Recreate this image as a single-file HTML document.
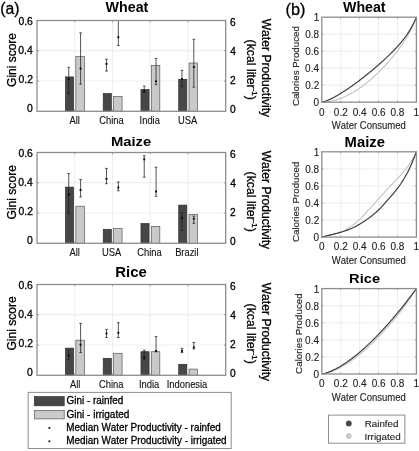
<!DOCTYPE html>
<html><head><meta charset="utf-8"><style>
html,body{margin:0;padding:0;background:#fff;width:419px;height:451px;overflow:hidden;position:relative}
</style></head><body>
<svg width="419" height="451" viewBox="0 0 419 451" style="position:absolute;left:0;top:0;will-change:transform">
<g font-family="'Liberation Sans', sans-serif" style="font-kerning:none">
<text transform="translate(0.32,13.86) scale(0.9469,1)" font-size="16.64" fill="#000" stroke="#000" stroke-width="0.300">(a)</text>
<text transform="translate(285.59,15.16) scale(0.9797,1)" font-size="16.64" fill="#000" stroke="#000" stroke-width="0.300">(b)</text>
<line x1="37.0" y1="81.03" x2="225.7" y2="81.03" stroke="#ebebeb" stroke-width="0.9"/>
<line x1="37.0" y1="50.77" x2="225.7" y2="50.77" stroke="#ebebeb" stroke-width="0.9"/>
<line x1="74.74" y1="20.5" x2="74.74" y2="111.3" stroke="#ebebeb" stroke-width="0.9"/>
<line x1="112.48" y1="20.5" x2="112.48" y2="111.3" stroke="#ebebeb" stroke-width="0.9"/>
<line x1="150.22" y1="20.5" x2="150.22" y2="111.3" stroke="#ebebeb" stroke-width="0.9"/>
<line x1="187.96" y1="20.5" x2="187.96" y2="111.3" stroke="#ebebeb" stroke-width="0.9"/>
<rect x="65.49" y="76.90" width="8.1" height="34.40" fill="#474747" stroke="#2e2e2e" stroke-width="0.7"/>
<rect x="75.84" y="56.60" width="8.5" height="54.70" fill="#c9c9c9" stroke="#5a5a5a" stroke-width="0.7"/>
<rect x="103.23" y="93.60" width="8.1" height="17.70" fill="#474747" stroke="#2e2e2e" stroke-width="0.7"/>
<rect x="113.58" y="96.40" width="8.5" height="14.90" fill="#c9c9c9" stroke="#5a5a5a" stroke-width="0.7"/>
<rect x="140.97" y="89.50" width="8.1" height="21.80" fill="#474747" stroke="#2e2e2e" stroke-width="0.7"/>
<rect x="151.32" y="65.40" width="8.5" height="45.90" fill="#c9c9c9" stroke="#5a5a5a" stroke-width="0.7"/>
<rect x="178.71" y="79.30" width="8.1" height="32.00" fill="#474747" stroke="#2e2e2e" stroke-width="0.7"/>
<rect x="189.06" y="63.00" width="8.5" height="48.30" fill="#c9c9c9" stroke="#5a5a5a" stroke-width="0.7"/>
<g stroke="#1e1e1e" stroke-width="0.75">
<line x1="68.74" y1="67.3" x2="68.74" y2="93.8"/>
<line x1="67.44" y1="67.3" x2="70.04" y2="67.3"/>
<line x1="67.44" y1="93.8" x2="70.04" y2="93.8"/>
<line x1="80.59" y1="32.9" x2="80.59" y2="84.2"/>
<line x1="79.29" y1="32.9" x2="81.89" y2="32.9"/>
<line x1="79.29" y1="84.2" x2="81.89" y2="84.2"/>
<line x1="106.48" y1="59.2" x2="106.48" y2="71.1"/>
<line x1="105.18" y1="59.2" x2="107.78" y2="59.2"/>
<line x1="105.18" y1="71.1" x2="107.78" y2="71.1"/>
<line x1="118.33" y1="20.5" x2="118.33" y2="45.5"/>
<line x1="117.03" y1="45.5" x2="119.63" y2="45.5"/>
<line x1="144.22" y1="86.1" x2="144.22" y2="92.6"/>
<line x1="142.92" y1="86.1" x2="145.52" y2="86.1"/>
<line x1="142.92" y1="92.6" x2="145.52" y2="92.6"/>
<line x1="156.07" y1="58.4" x2="156.07" y2="84.7"/>
<line x1="154.77" y1="58.4" x2="157.37" y2="58.4"/>
<line x1="154.77" y1="84.7" x2="157.37" y2="84.7"/>
<line x1="181.96" y1="70.4" x2="181.96" y2="86.6"/>
<line x1="180.66" y1="70.4" x2="183.26" y2="70.4"/>
<line x1="180.66" y1="86.6" x2="183.26" y2="86.6"/>
<line x1="193.81" y1="39.3" x2="193.81" y2="87.1"/>
<line x1="192.51" y1="39.3" x2="195.11" y2="39.3"/>
<line x1="192.51" y1="87.1" x2="195.11" y2="87.1"/>
</g>
<rect x="67.79" y="78.05" width="1.9" height="1.9" fill="#0a0a0a"/>
<rect x="79.64" y="67.55" width="1.9" height="1.9" fill="#0a0a0a"/>
<rect x="105.53" y="62.95" width="1.9" height="1.9" fill="#0a0a0a"/>
<rect x="117.38" y="36.25" width="1.9" height="1.9" fill="#0a0a0a"/>
<rect x="143.27" y="89.95" width="1.9" height="1.9" fill="#0a0a0a"/>
<rect x="155.12" y="80.35" width="1.9" height="1.9" fill="#0a0a0a"/>
<rect x="181.01" y="78.05" width="1.9" height="1.9" fill="#0a0a0a"/>
<rect x="192.86" y="66.05" width="1.9" height="1.9" fill="#0a0a0a"/>
<rect x="37.0" y="20.5" width="188.70" height="90.80" fill="none" stroke="#8e8e8e" stroke-width="1.3"/>
<line x1="74.74" y1="20.5" x2="74.74" y2="22.3" stroke="#8e8e8e" stroke-width="0.8"/>
<line x1="74.74" y1="111.3" x2="74.74" y2="109.5" stroke="#8e8e8e" stroke-width="0.8"/>
<line x1="112.48" y1="20.5" x2="112.48" y2="22.3" stroke="#8e8e8e" stroke-width="0.8"/>
<line x1="112.48" y1="111.3" x2="112.48" y2="109.5" stroke="#8e8e8e" stroke-width="0.8"/>
<line x1="150.22" y1="20.5" x2="150.22" y2="22.3" stroke="#8e8e8e" stroke-width="0.8"/>
<line x1="150.22" y1="111.3" x2="150.22" y2="109.5" stroke="#8e8e8e" stroke-width="0.8"/>
<line x1="187.96" y1="20.5" x2="187.96" y2="22.3" stroke="#8e8e8e" stroke-width="0.8"/>
<line x1="187.96" y1="111.3" x2="187.96" y2="109.5" stroke="#8e8e8e" stroke-width="0.8"/>
<line x1="37.0" y1="81.03" x2="38.8" y2="81.03" stroke="#8e8e8e" stroke-width="0.8"/>
<line x1="225.7" y1="81.03" x2="223.89999999999998" y2="81.03" stroke="#8e8e8e" stroke-width="0.8"/>
<line x1="37.0" y1="50.77" x2="38.8" y2="50.77" stroke="#8e8e8e" stroke-width="0.8"/>
<line x1="225.7" y1="50.77" x2="223.89999999999998" y2="50.77" stroke="#8e8e8e" stroke-width="0.8"/>
<text transform="translate(18.40,25.10) scale(1.0100,1)" font-size="10.30" fill="#000" stroke="#000" stroke-width="0.300">0.6</text>
<text transform="translate(229.88,25.90) scale(0.9900,1)" font-size="10.30" fill="#000" stroke="#000" stroke-width="0.300">6</text>
<text transform="translate(18.24,54.03) scale(1.0100,1)" font-size="10.30" fill="#000" stroke="#000" stroke-width="0.300">0.4</text>
<text transform="translate(230.17,54.83) scale(0.9900,1)" font-size="10.30" fill="#000" stroke="#000" stroke-width="0.300">4</text>
<text transform="translate(18.46,82.96) scale(1.0100,1)" font-size="10.30" fill="#000" stroke="#000" stroke-width="0.300">0.2</text>
<text transform="translate(229.89,83.76) scale(0.9900,1)" font-size="10.30" fill="#000" stroke="#000" stroke-width="0.300">2</text>
<text transform="translate(27.02,111.89) scale(1.0100,1)" font-size="10.30" fill="#000" stroke="#000" stroke-width="0.300">0</text>
<text transform="translate(230.00,112.69) scale(0.9900,1)" font-size="10.30" fill="#000" stroke="#000" stroke-width="0.300">0</text>
<text transform="translate(69.50,123.80) scale(0.9000,1)" font-size="10.40" fill="#111" stroke="#111" stroke-width="0.120">All</text>
<text transform="translate(99.33,123.80) scale(0.9000,1)" font-size="10.40" fill="#111" stroke="#111" stroke-width="0.120">China</text>
<text transform="translate(139.62,123.80) scale(0.9000,1)" font-size="10.40" fill="#111" stroke="#111" stroke-width="0.120">India</text>
<text transform="translate(178.03,123.80) scale(0.9000,1)" font-size="10.40" fill="#111" stroke="#111" stroke-width="0.120">USA</text>
<text transform="translate(105.59,11.66) scale(1.0169,1)" font-size="14.03" font-weight="bold" fill="#000">Wheat</text>
<text transform="translate(15.50,86.90) rotate(-90) scale(0.9663,1)" font-size="12.40" fill="#000" stroke="#000" stroke-width="0.300">Gini score</text>
<text transform="translate(261.90,18.65) rotate(90) scale(0.9798,1)" font-size="12.40" fill="#000" stroke="#000" stroke-width="0.300">Water Productivity</text>
<text transform="translate(247.3,39.60) rotate(90) scale(0.99,1)" font-size="12.4" fill="#000" stroke="#000" stroke-width="0.3">(kcal liter<tspan font-size="8" dy="-4.6">-1</tspan><tspan dy="4.6">)</tspan></text>
<line x1="37.0" y1="213.03" x2="225.7" y2="213.03" stroke="#ebebeb" stroke-width="0.9"/>
<line x1="37.0" y1="182.77" x2="225.7" y2="182.77" stroke="#ebebeb" stroke-width="0.9"/>
<line x1="74.74" y1="152.5" x2="74.74" y2="243.3" stroke="#ebebeb" stroke-width="0.9"/>
<line x1="112.48" y1="152.5" x2="112.48" y2="243.3" stroke="#ebebeb" stroke-width="0.9"/>
<line x1="150.22" y1="152.5" x2="150.22" y2="243.3" stroke="#ebebeb" stroke-width="0.9"/>
<line x1="187.96" y1="152.5" x2="187.96" y2="243.3" stroke="#ebebeb" stroke-width="0.9"/>
<rect x="65.49" y="187.10" width="8.1" height="56.20" fill="#474747" stroke="#2e2e2e" stroke-width="0.7"/>
<rect x="75.84" y="206.20" width="8.5" height="37.10" fill="#c9c9c9" stroke="#5a5a5a" stroke-width="0.7"/>
<rect x="103.23" y="229.30" width="8.1" height="14.00" fill="#474747" stroke="#2e2e2e" stroke-width="0.7"/>
<rect x="113.58" y="228.30" width="8.5" height="15.00" fill="#c9c9c9" stroke="#5a5a5a" stroke-width="0.7"/>
<rect x="140.97" y="223.60" width="8.1" height="19.70" fill="#474747" stroke="#2e2e2e" stroke-width="0.7"/>
<rect x="151.32" y="226.40" width="8.5" height="16.90" fill="#c9c9c9" stroke="#5a5a5a" stroke-width="0.7"/>
<rect x="178.71" y="205.10" width="8.1" height="38.20" fill="#474747" stroke="#2e2e2e" stroke-width="0.7"/>
<rect x="189.06" y="214.40" width="8.5" height="28.90" fill="#c9c9c9" stroke="#5a5a5a" stroke-width="0.7"/>
<g stroke="#1e1e1e" stroke-width="0.75">
<line x1="68.74" y1="173.6" x2="68.74" y2="213.7"/>
<line x1="67.44" y1="173.6" x2="70.04" y2="173.6"/>
<line x1="67.44" y1="213.7" x2="70.04" y2="213.7"/>
<line x1="80.59" y1="179.6" x2="80.59" y2="197"/>
<line x1="79.29" y1="179.6" x2="81.89" y2="179.6"/>
<line x1="79.29" y1="197" x2="81.89" y2="197"/>
<line x1="106.48" y1="168.4" x2="106.48" y2="183.7"/>
<line x1="105.18" y1="168.4" x2="107.78" y2="168.4"/>
<line x1="105.18" y1="183.7" x2="107.78" y2="183.7"/>
<line x1="118.33" y1="182" x2="118.33" y2="190.8"/>
<line x1="117.03" y1="182" x2="119.63" y2="182"/>
<line x1="117.03" y1="190.8" x2="119.63" y2="190.8"/>
<line x1="144.22" y1="155.7" x2="144.22" y2="177.2"/>
<line x1="142.92" y1="155.7" x2="145.52" y2="155.7"/>
<line x1="142.92" y1="177.2" x2="145.52" y2="177.2"/>
<line x1="156.07" y1="167.2" x2="156.07" y2="196.3"/>
<line x1="154.77" y1="167.2" x2="157.37" y2="167.2"/>
<line x1="154.77" y1="196.3" x2="157.37" y2="196.3"/>
<line x1="181.96" y1="212.4" x2="181.96" y2="230.5"/>
<line x1="180.66" y1="212.4" x2="183.26" y2="212.4"/>
<line x1="180.66" y1="230.5" x2="183.26" y2="230.5"/>
<line x1="193.81" y1="216.1" x2="193.81" y2="223.3"/>
<line x1="192.51" y1="216.1" x2="195.11" y2="216.1"/>
<line x1="192.51" y1="223.3" x2="195.11" y2="223.3"/>
</g>
<rect x="67.79" y="193.45" width="1.9" height="1.9" fill="#0a0a0a"/>
<rect x="79.64" y="188.95" width="1.9" height="1.9" fill="#0a0a0a"/>
<rect x="105.53" y="177.95" width="1.9" height="1.9" fill="#0a0a0a"/>
<rect x="117.38" y="186.55" width="1.9" height="1.9" fill="#0a0a0a"/>
<rect x="143.27" y="158.35" width="1.9" height="1.9" fill="#0a0a0a"/>
<rect x="155.12" y="190.55" width="1.9" height="1.9" fill="#0a0a0a"/>
<rect x="181.01" y="216.75" width="1.9" height="1.9" fill="#0a0a0a"/>
<rect x="192.86" y="217.85" width="1.9" height="1.9" fill="#0a0a0a"/>
<rect x="37.0" y="152.5" width="188.70" height="90.80" fill="none" stroke="#8e8e8e" stroke-width="1.3"/>
<line x1="74.74" y1="152.5" x2="74.74" y2="154.3" stroke="#8e8e8e" stroke-width="0.8"/>
<line x1="74.74" y1="243.3" x2="74.74" y2="241.5" stroke="#8e8e8e" stroke-width="0.8"/>
<line x1="112.48" y1="152.5" x2="112.48" y2="154.3" stroke="#8e8e8e" stroke-width="0.8"/>
<line x1="112.48" y1="243.3" x2="112.48" y2="241.5" stroke="#8e8e8e" stroke-width="0.8"/>
<line x1="150.22" y1="152.5" x2="150.22" y2="154.3" stroke="#8e8e8e" stroke-width="0.8"/>
<line x1="150.22" y1="243.3" x2="150.22" y2="241.5" stroke="#8e8e8e" stroke-width="0.8"/>
<line x1="187.96" y1="152.5" x2="187.96" y2="154.3" stroke="#8e8e8e" stroke-width="0.8"/>
<line x1="187.96" y1="243.3" x2="187.96" y2="241.5" stroke="#8e8e8e" stroke-width="0.8"/>
<line x1="37.0" y1="213.03" x2="38.8" y2="213.03" stroke="#8e8e8e" stroke-width="0.8"/>
<line x1="225.7" y1="213.03" x2="223.89999999999998" y2="213.03" stroke="#8e8e8e" stroke-width="0.8"/>
<line x1="37.0" y1="182.77" x2="38.8" y2="182.77" stroke="#8e8e8e" stroke-width="0.8"/>
<line x1="225.7" y1="182.77" x2="223.89999999999998" y2="182.77" stroke="#8e8e8e" stroke-width="0.8"/>
<text transform="translate(18.40,157.10) scale(1.0100,1)" font-size="10.30" fill="#000" stroke="#000" stroke-width="0.300">0.6</text>
<text transform="translate(229.88,157.90) scale(0.9900,1)" font-size="10.30" fill="#000" stroke="#000" stroke-width="0.300">6</text>
<text transform="translate(18.24,186.03) scale(1.0100,1)" font-size="10.30" fill="#000" stroke="#000" stroke-width="0.300">0.4</text>
<text transform="translate(230.17,186.83) scale(0.9900,1)" font-size="10.30" fill="#000" stroke="#000" stroke-width="0.300">4</text>
<text transform="translate(18.46,214.96) scale(1.0100,1)" font-size="10.30" fill="#000" stroke="#000" stroke-width="0.300">0.2</text>
<text transform="translate(229.89,215.76) scale(0.9900,1)" font-size="10.30" fill="#000" stroke="#000" stroke-width="0.300">2</text>
<text transform="translate(27.02,243.89) scale(1.0100,1)" font-size="10.30" fill="#000" stroke="#000" stroke-width="0.300">0</text>
<text transform="translate(230.00,244.69) scale(0.9900,1)" font-size="10.30" fill="#000" stroke="#000" stroke-width="0.300">0</text>
<text transform="translate(69.50,255.80) scale(0.9000,1)" font-size="10.40" fill="#111" stroke="#111" stroke-width="0.120">All</text>
<text transform="translate(102.03,255.80) scale(0.9000,1)" font-size="10.40" fill="#111" stroke="#111" stroke-width="0.120">USA</text>
<text transform="translate(137.23,255.80) scale(0.9000,1)" font-size="10.40" fill="#111" stroke="#111" stroke-width="0.120">China</text>
<text transform="translate(175.13,255.80) scale(0.9000,1)" font-size="10.40" fill="#111" stroke="#111" stroke-width="0.120">Brazil</text>
<text transform="translate(110.91,145.87) scale(1.1439,1)" font-size="12.94" font-weight="bold" fill="#000">Maize</text>
<text transform="translate(15.50,219.51) rotate(-90) scale(0.9754,1)" font-size="12.40" fill="#000" stroke="#000" stroke-width="0.300">Gini score</text>
<text transform="translate(261.90,150.65) rotate(90) scale(0.9798,1)" font-size="12.40" fill="#000" stroke="#000" stroke-width="0.300">Water Productivity</text>
<text transform="translate(247.3,171.60) rotate(90) scale(0.99,1)" font-size="12.4" fill="#000" stroke="#000" stroke-width="0.3">(kcal liter<tspan font-size="8" dy="-4.6">-1</tspan><tspan dy="4.6">)</tspan></text>
<line x1="37.0" y1="345.03" x2="225.7" y2="345.03" stroke="#ebebeb" stroke-width="0.9"/>
<line x1="37.0" y1="314.77" x2="225.7" y2="314.77" stroke="#ebebeb" stroke-width="0.9"/>
<line x1="74.74" y1="284.5" x2="74.74" y2="375.3" stroke="#ebebeb" stroke-width="0.9"/>
<line x1="112.48" y1="284.5" x2="112.48" y2="375.3" stroke="#ebebeb" stroke-width="0.9"/>
<line x1="150.22" y1="284.5" x2="150.22" y2="375.3" stroke="#ebebeb" stroke-width="0.9"/>
<line x1="187.96" y1="284.5" x2="187.96" y2="375.3" stroke="#ebebeb" stroke-width="0.9"/>
<rect x="65.49" y="348.10" width="8.1" height="27.20" fill="#474747" stroke="#2e2e2e" stroke-width="0.7"/>
<rect x="75.84" y="340.20" width="8.5" height="35.10" fill="#c9c9c9" stroke="#5a5a5a" stroke-width="0.7"/>
<rect x="103.23" y="358.30" width="8.1" height="17.00" fill="#474747" stroke="#2e2e2e" stroke-width="0.7"/>
<rect x="113.58" y="353.30" width="8.5" height="22.00" fill="#c9c9c9" stroke="#5a5a5a" stroke-width="0.7"/>
<rect x="140.97" y="351.70" width="8.1" height="23.60" fill="#474747" stroke="#2e2e2e" stroke-width="0.7"/>
<rect x="151.32" y="351.70" width="8.5" height="23.60" fill="#c9c9c9" stroke="#5a5a5a" stroke-width="0.7"/>
<rect x="178.71" y="364.30" width="8.1" height="11.00" fill="#474747" stroke="#2e2e2e" stroke-width="0.7"/>
<rect x="189.06" y="369.10" width="8.5" height="6.20" fill="#c9c9c9" stroke="#5a5a5a" stroke-width="0.7"/>
<g stroke="#1e1e1e" stroke-width="0.75">
<line x1="68.74" y1="350.2" x2="68.74" y2="359.7"/>
<line x1="67.44" y1="350.2" x2="70.04" y2="350.2"/>
<line x1="67.44" y1="359.7" x2="70.04" y2="359.7"/>
<line x1="80.59" y1="323.4" x2="80.59" y2="352.6"/>
<line x1="79.29" y1="323.4" x2="81.89" y2="323.4"/>
<line x1="79.29" y1="352.6" x2="81.89" y2="352.6"/>
<line x1="106.48" y1="329.4" x2="106.48" y2="337.5"/>
<line x1="105.18" y1="329.4" x2="107.78" y2="329.4"/>
<line x1="105.18" y1="337.5" x2="107.78" y2="337.5"/>
<line x1="118.33" y1="322.7" x2="118.33" y2="337.5"/>
<line x1="117.03" y1="322.7" x2="119.63" y2="322.7"/>
<line x1="117.03" y1="337.5" x2="119.63" y2="337.5"/>
<line x1="144.22" y1="350.2" x2="144.22" y2="359.7"/>
<line x1="142.92" y1="350.2" x2="145.52" y2="350.2"/>
<line x1="142.92" y1="359.7" x2="145.52" y2="359.7"/>
<line x1="156.07" y1="336.6" x2="156.07" y2="351.8"/>
<line x1="154.77" y1="336.6" x2="157.37" y2="336.6"/>
<line x1="154.77" y1="351.8" x2="157.37" y2="351.8"/>
<line x1="181.96" y1="348.3" x2="181.96" y2="352.6"/>
<line x1="180.66" y1="348.3" x2="183.26" y2="348.3"/>
<line x1="180.66" y1="352.6" x2="183.26" y2="352.6"/>
<line x1="193.81" y1="342.5" x2="193.81" y2="349"/>
<line x1="192.51" y1="342.5" x2="195.11" y2="342.5"/>
<line x1="192.51" y1="349" x2="195.11" y2="349"/>
</g>
<rect x="67.79" y="354.75" width="1.9" height="1.9" fill="#0a0a0a"/>
<rect x="79.64" y="343.75" width="1.9" height="1.9" fill="#0a0a0a"/>
<rect x="105.53" y="332.55" width="1.9" height="1.9" fill="#0a0a0a"/>
<rect x="117.38" y="331.85" width="1.9" height="1.9" fill="#0a0a0a"/>
<rect x="143.27" y="356.35" width="1.9" height="1.9" fill="#0a0a0a"/>
<rect x="155.12" y="349.95" width="1.9" height="1.9" fill="#0a0a0a"/>
<rect x="181.01" y="349.95" width="1.9" height="1.9" fill="#0a0a0a"/>
<rect x="192.86" y="346.35" width="1.9" height="1.9" fill="#0a0a0a"/>
<rect x="37.0" y="284.5" width="188.70" height="90.80" fill="none" stroke="#8e8e8e" stroke-width="1.3"/>
<line x1="74.74" y1="284.5" x2="74.74" y2="286.3" stroke="#8e8e8e" stroke-width="0.8"/>
<line x1="74.74" y1="375.3" x2="74.74" y2="373.5" stroke="#8e8e8e" stroke-width="0.8"/>
<line x1="112.48" y1="284.5" x2="112.48" y2="286.3" stroke="#8e8e8e" stroke-width="0.8"/>
<line x1="112.48" y1="375.3" x2="112.48" y2="373.5" stroke="#8e8e8e" stroke-width="0.8"/>
<line x1="150.22" y1="284.5" x2="150.22" y2="286.3" stroke="#8e8e8e" stroke-width="0.8"/>
<line x1="150.22" y1="375.3" x2="150.22" y2="373.5" stroke="#8e8e8e" stroke-width="0.8"/>
<line x1="187.96" y1="284.5" x2="187.96" y2="286.3" stroke="#8e8e8e" stroke-width="0.8"/>
<line x1="187.96" y1="375.3" x2="187.96" y2="373.5" stroke="#8e8e8e" stroke-width="0.8"/>
<line x1="37.0" y1="345.03" x2="38.8" y2="345.03" stroke="#8e8e8e" stroke-width="0.8"/>
<line x1="225.7" y1="345.03" x2="223.89999999999998" y2="345.03" stroke="#8e8e8e" stroke-width="0.8"/>
<line x1="37.0" y1="314.77" x2="38.8" y2="314.77" stroke="#8e8e8e" stroke-width="0.8"/>
<line x1="225.7" y1="314.77" x2="223.89999999999998" y2="314.77" stroke="#8e8e8e" stroke-width="0.8"/>
<text transform="translate(18.40,289.10) scale(1.0100,1)" font-size="10.30" fill="#000" stroke="#000" stroke-width="0.300">0.6</text>
<text transform="translate(229.88,289.90) scale(0.9900,1)" font-size="10.30" fill="#000" stroke="#000" stroke-width="0.300">6</text>
<text transform="translate(18.24,318.03) scale(1.0100,1)" font-size="10.30" fill="#000" stroke="#000" stroke-width="0.300">0.4</text>
<text transform="translate(230.17,318.83) scale(0.9900,1)" font-size="10.30" fill="#000" stroke="#000" stroke-width="0.300">4</text>
<text transform="translate(18.46,346.96) scale(1.0100,1)" font-size="10.30" fill="#000" stroke="#000" stroke-width="0.300">0.2</text>
<text transform="translate(229.89,347.76) scale(0.9900,1)" font-size="10.30" fill="#000" stroke="#000" stroke-width="0.300">2</text>
<text transform="translate(27.02,375.89) scale(1.0100,1)" font-size="10.30" fill="#000" stroke="#000" stroke-width="0.300">0</text>
<text transform="translate(230.00,376.69) scale(0.9900,1)" font-size="10.30" fill="#000" stroke="#000" stroke-width="0.300">0</text>
<text transform="translate(69.90,387.80) scale(0.9000,1)" font-size="10.40" fill="#111" stroke="#111" stroke-width="0.120">All</text>
<text transform="translate(99.03,387.80) scale(0.9000,1)" font-size="10.40" fill="#111" stroke="#111" stroke-width="0.120">China</text>
<text transform="translate(138.92,387.80) scale(0.9000,1)" font-size="10.40" fill="#111" stroke="#111" stroke-width="0.120">India</text>
<text transform="translate(166.77,387.80) scale(0.9000,1)" font-size="10.40" fill="#111" stroke="#111" stroke-width="0.120">Indonesia</text>
<text transform="translate(115.30,276.67) scale(1.0846,1)" font-size="13.75" font-weight="bold" fill="#000">Rice</text>
<text transform="translate(15.50,350.61) rotate(-90) scale(0.9754,1)" font-size="12.40" fill="#000" stroke="#000" stroke-width="0.300">Gini score</text>
<text transform="translate(261.90,282.65) rotate(90) scale(0.9798,1)" font-size="12.40" fill="#000" stroke="#000" stroke-width="0.300">Water Productivity</text>
<text transform="translate(247.3,303.60) rotate(90) scale(0.99,1)" font-size="12.4" fill="#000" stroke="#000" stroke-width="0.3">(kcal liter<tspan font-size="8" dy="-4.6">-1</tspan><tspan dy="4.6">)</tspan></text>
<rect x="28.2" y="392.4" width="203" height="56.1" fill="#fff" stroke="#8e8e8e" stroke-width="1"/>
<rect x="34.4" y="396.6" width="29.8" height="9.2" fill="#474747" stroke="#2e2e2e" stroke-width="0.7"/>
<rect x="34.4" y="410.4" width="29.8" height="8.5" fill="#c9c9c9" stroke="#5a5a5a" stroke-width="0.7"/>
<rect x="48.5" y="427" width="1.8" height="1.8" fill="#111"/>
<rect x="48.5" y="440.4" width="1.8" height="1.8" fill="#111"/>
<text transform="translate(66.50,404.30) scale(0.9734,1)" font-size="10.20" fill="#000" stroke="#000" stroke-width="0.300">Gini - rainfed</text>
<text transform="translate(66.50,417.70) scale(0.9812,1)" font-size="10.20" fill="#000" stroke="#000" stroke-width="0.300">Gini - irrigated</text>
<text transform="translate(66.19,431.00) scale(0.9721,1)" font-size="10.20" fill="#000" stroke="#000" stroke-width="0.300">Median Water Productivity - rainfed</text>
<text transform="translate(66.19,444.40) scale(0.9739,1)" font-size="10.20" fill="#000" stroke="#000" stroke-width="0.300">Median Water Productivity - irrigated</text>
<line x1="321.8" y1="85.20" x2="416.4" y2="85.20" stroke="#ebebeb" stroke-width="0.9"/>
<line x1="340.72" y1="17.2" x2="340.72" y2="102.2" stroke="#ebebeb" stroke-width="0.9"/>
<line x1="321.8" y1="68.20" x2="416.4" y2="68.20" stroke="#ebebeb" stroke-width="0.9"/>
<line x1="359.64" y1="17.2" x2="359.64" y2="102.2" stroke="#ebebeb" stroke-width="0.9"/>
<line x1="321.8" y1="51.20" x2="416.4" y2="51.20" stroke="#ebebeb" stroke-width="0.9"/>
<line x1="378.56" y1="17.2" x2="378.56" y2="102.2" stroke="#ebebeb" stroke-width="0.9"/>
<line x1="321.8" y1="34.20" x2="416.4" y2="34.20" stroke="#ebebeb" stroke-width="0.9"/>
<line x1="397.48" y1="17.2" x2="397.48" y2="102.2" stroke="#ebebeb" stroke-width="0.9"/>
<path d="M321.80,102.20 L322.59,102.19 L323.39,102.16 L324.18,102.12 L324.98,102.06 L325.77,101.98 L326.57,101.90 L327.36,101.79 L328.16,101.68 L328.95,101.55 L329.75,101.41 L330.54,101.26 L331.34,101.10 L332.13,100.92 L332.93,100.74 L333.72,100.54 L334.52,100.32 L335.31,100.10 L336.11,99.87 L336.90,99.62 L337.70,99.36 L338.49,99.10 L339.29,98.82 L340.08,98.53 L340.88,98.22 L341.67,97.91 L342.47,97.59 L343.26,97.25 L344.06,96.91 L344.85,96.55 L345.65,96.19 L346.44,95.81 L347.24,95.42 L348.03,95.03 L348.83,94.62 L349.62,94.20 L350.42,93.77 L351.21,93.33 L352.01,92.88 L352.80,92.43 L353.60,91.96 L354.39,91.48 L355.19,90.99 L355.98,90.49 L356.78,89.98 L357.57,89.46 L358.37,88.93 L359.16,88.39 L359.96,87.84 L360.75,87.28 L361.55,86.71 L362.34,86.13 L363.14,85.54 L363.93,84.95 L364.73,84.34 L365.52,83.72 L366.32,83.09 L367.11,82.46 L367.91,81.81 L368.70,81.15 L369.50,80.49 L370.29,79.81 L371.09,79.13 L371.88,78.43 L372.68,77.73 L373.47,77.02 L374.27,76.29 L375.06,75.56 L375.86,74.82 L376.65,74.07 L377.45,73.31 L378.24,72.54 L379.04,71.76 L379.83,70.97 L380.63,70.17 L381.42,69.37 L382.22,68.55 L383.01,67.72 L383.81,66.88 L384.60,66.04 L385.40,65.18 L386.19,64.32 L386.99,63.44 L387.78,62.56 L388.58,61.66 L389.37,60.75 L390.17,59.84 L390.96,58.91 L391.76,57.97 L392.55,57.02 L393.35,56.06 L394.14,55.09 L394.94,54.10 L395.73,53.10 L396.53,52.09 L397.32,51.06 L398.12,50.02 L398.91,48.96 L399.71,47.89 L400.50,46.79 L401.30,45.68 L402.09,44.55 L402.89,43.39 L403.68,42.21 L404.48,41.00 L405.27,39.76 L406.07,38.50 L406.86,37.19 L407.66,35.85 L408.45,34.47 L409.25,33.04 L410.04,31.57 L410.84,30.04 L411.63,28.44 L412.43,26.78 L413.22,25.05 L414.02,23.23 L414.81,21.32 L415.61,19.32 L416.40,17.20" fill="none" stroke="#c2c2c2" stroke-width="1.1"/>
<path d="M321.80,102.20 L322.59,102.06 L323.39,101.86 L324.18,101.62 L324.98,101.36 L325.77,101.07 L326.57,100.76 L327.36,100.44 L328.16,100.10 L328.95,99.75 L329.75,99.39 L330.54,99.01 L331.34,98.63 L332.13,98.23 L332.93,97.82 L333.72,97.41 L334.52,96.98 L335.31,96.55 L336.11,96.11 L336.90,95.66 L337.70,95.20 L338.49,94.74 L339.29,94.27 L340.08,93.79 L340.88,93.30 L341.67,92.81 L342.47,92.32 L343.26,91.81 L344.06,91.30 L344.85,90.79 L345.65,90.27 L346.44,89.74 L347.24,89.21 L348.03,88.67 L348.83,88.13 L349.62,87.59 L350.42,87.03 L351.21,86.48 L352.01,85.91 L352.80,85.35 L353.60,84.78 L354.39,84.20 L355.19,83.62 L355.98,83.04 L356.78,82.45 L357.57,81.86 L358.37,81.26 L359.16,80.66 L359.96,80.05 L360.75,79.44 L361.55,78.83 L362.34,78.21 L363.14,77.59 L363.93,76.97 L364.73,76.34 L365.52,75.71 L366.32,75.07 L367.11,74.43 L367.91,73.79 L368.70,73.14 L369.50,72.49 L370.29,71.83 L371.09,71.17 L371.88,70.51 L372.68,69.85 L373.47,69.18 L374.27,68.50 L375.06,67.83 L375.86,67.14 L376.65,66.46 L377.45,65.77 L378.24,65.08 L379.04,64.38 L379.83,63.68 L380.63,62.98 L381.42,62.27 L382.22,61.55 L383.01,60.83 L383.81,60.11 L384.60,59.38 L385.40,58.64 L386.19,57.90 L386.99,57.16 L387.78,56.41 L388.58,55.65 L389.37,54.88 L390.17,54.11 L390.96,53.33 L391.76,52.54 L392.55,51.74 L393.35,50.93 L394.14,50.11 L394.94,49.28 L395.73,48.44 L396.53,47.58 L397.32,46.71 L398.12,45.83 L398.91,44.93 L399.71,44.01 L400.50,43.08 L401.30,42.12 L402.09,41.15 L402.89,40.15 L403.68,39.12 L404.48,38.07 L405.27,36.99 L406.07,35.88 L406.86,34.73 L407.66,33.55 L408.45,32.33 L409.25,31.07 L410.04,29.76 L410.84,28.40 L411.63,27.00 L412.43,25.53 L413.22,24.00 L414.02,22.41 L414.81,20.75 L415.61,19.02 L416.40,17.20" fill="none" stroke="#3e3e3e" stroke-width="1.2"/>
<rect x="321.8" y="17.2" width="94.60" height="85.00" fill="none" stroke="#8e8e8e" stroke-width="1.3"/>
<line x1="321.8" y1="85.20" x2="323.3" y2="85.20" stroke="#8e8e8e" stroke-width="0.8"/>
<line x1="340.72" y1="102.2" x2="340.72" y2="100.7" stroke="#8e8e8e" stroke-width="0.8"/>
<line x1="340.72" y1="17.2" x2="340.72" y2="18.7" stroke="#8e8e8e" stroke-width="0.8"/>
<line x1="416.4" y1="85.20" x2="414.9" y2="85.20" stroke="#8e8e8e" stroke-width="0.8"/>
<line x1="321.8" y1="68.20" x2="323.3" y2="68.20" stroke="#8e8e8e" stroke-width="0.8"/>
<line x1="359.64" y1="102.2" x2="359.64" y2="100.7" stroke="#8e8e8e" stroke-width="0.8"/>
<line x1="359.64" y1="17.2" x2="359.64" y2="18.7" stroke="#8e8e8e" stroke-width="0.8"/>
<line x1="416.4" y1="68.20" x2="414.9" y2="68.20" stroke="#8e8e8e" stroke-width="0.8"/>
<line x1="321.8" y1="51.20" x2="323.3" y2="51.20" stroke="#8e8e8e" stroke-width="0.8"/>
<line x1="378.56" y1="102.2" x2="378.56" y2="100.7" stroke="#8e8e8e" stroke-width="0.8"/>
<line x1="378.56" y1="17.2" x2="378.56" y2="18.7" stroke="#8e8e8e" stroke-width="0.8"/>
<line x1="416.4" y1="51.20" x2="414.9" y2="51.20" stroke="#8e8e8e" stroke-width="0.8"/>
<line x1="321.8" y1="34.20" x2="323.3" y2="34.20" stroke="#8e8e8e" stroke-width="0.8"/>
<line x1="397.48" y1="102.2" x2="397.48" y2="100.7" stroke="#8e8e8e" stroke-width="0.8"/>
<line x1="397.48" y1="17.2" x2="397.48" y2="18.7" stroke="#8e8e8e" stroke-width="0.8"/>
<line x1="416.4" y1="34.20" x2="414.9" y2="34.20" stroke="#8e8e8e" stroke-width="0.8"/>
<text transform="translate(313.53,106.40) scale(0.9800,1)" font-size="10.20" fill="#222" stroke="#222" stroke-width="0.120">0</text>
<text transform="translate(319.02,115.50) scale(0.9800,1)" font-size="10.20" fill="#222" stroke="#222" stroke-width="0.120">0</text>
<text transform="translate(305.31,89.40) scale(0.9800,1)" font-size="10.20" fill="#222" stroke="#222" stroke-width="0.120">0.2</text>
<text transform="translate(333.83,115.50) scale(0.9800,1)" font-size="10.20" fill="#222" stroke="#222" stroke-width="0.120">0.2</text>
<text transform="translate(305.10,72.40) scale(0.9800,1)" font-size="10.20" fill="#222" stroke="#222" stroke-width="0.120">0.4</text>
<text transform="translate(352.64,115.50) scale(0.9800,1)" font-size="10.20" fill="#222" stroke="#222" stroke-width="0.120">0.4</text>
<text transform="translate(305.24,55.40) scale(0.9800,1)" font-size="10.20" fill="#222" stroke="#222" stroke-width="0.120">0.6</text>
<text transform="translate(371.64,115.50) scale(0.9800,1)" font-size="10.20" fill="#222" stroke="#222" stroke-width="0.120">0.6</text>
<text transform="translate(305.24,38.40) scale(0.9800,1)" font-size="10.20" fill="#222" stroke="#222" stroke-width="0.120">0.8</text>
<text transform="translate(390.55,115.50) scale(0.9800,1)" font-size="10.20" fill="#222" stroke="#222" stroke-width="0.120">0.8</text>
<text transform="translate(313.63,21.40) scale(0.9800,1)" font-size="10.20" fill="#222" stroke="#222" stroke-width="0.120">1</text>
<text transform="translate(413.48,115.50) scale(0.9800,1)" font-size="10.20" fill="#222" stroke="#222" stroke-width="0.120">1</text>
<text transform="translate(331.86,129.20) scale(0.9518,1)" font-size="10.00" fill="#222" stroke="#222" stroke-width="0.120">Water Consumed</text>
<text transform="translate(298.80,106.09) rotate(-90) scale(0.9926,1)" font-size="9.80" fill="#222" stroke="#222" stroke-width="0.120">Calories Produced</text>
<text transform="translate(342.99,12.07) scale(1.0346,1)" font-size="13.75" font-weight="bold" fill="#000">Wheat</text>
<line x1="321.8" y1="220.04" x2="416.4" y2="220.04" stroke="#ebebeb" stroke-width="0.9"/>
<line x1="340.72" y1="151.8" x2="340.72" y2="237.1" stroke="#ebebeb" stroke-width="0.9"/>
<line x1="321.8" y1="202.98" x2="416.4" y2="202.98" stroke="#ebebeb" stroke-width="0.9"/>
<line x1="359.64" y1="151.8" x2="359.64" y2="237.1" stroke="#ebebeb" stroke-width="0.9"/>
<line x1="321.8" y1="185.92" x2="416.4" y2="185.92" stroke="#ebebeb" stroke-width="0.9"/>
<line x1="378.56" y1="151.8" x2="378.56" y2="237.1" stroke="#ebebeb" stroke-width="0.9"/>
<line x1="321.8" y1="168.86" x2="416.4" y2="168.86" stroke="#ebebeb" stroke-width="0.9"/>
<line x1="397.48" y1="151.8" x2="397.48" y2="237.1" stroke="#ebebeb" stroke-width="0.9"/>
<path d="M321.80,237.10 L322.59,236.83 L323.39,236.59 L324.18,236.37 L324.98,236.17 L325.77,235.98 L326.57,235.80 L327.36,235.63 L328.16,235.47 L328.95,235.31 L329.75,235.15 L330.54,235.00 L331.34,234.84 L332.13,234.67 L332.93,234.50 L333.72,234.32 L334.52,234.13 L335.31,233.94 L336.11,233.72 L336.90,233.50 L337.70,233.26 L338.49,233.01 L339.29,232.74 L340.08,232.45 L340.88,232.14 L341.67,231.82 L342.47,231.48 L343.26,231.11 L344.06,230.73 L344.85,230.33 L345.65,229.90 L346.44,229.46 L347.24,228.99 L348.03,228.51 L348.83,228.00 L349.62,227.48 L350.42,226.93 L351.21,226.36 L352.01,225.77 L352.80,225.17 L353.60,224.54 L354.39,223.90 L355.19,223.24 L355.98,222.56 L356.78,221.86 L357.57,221.15 L358.37,220.42 L359.16,219.67 L359.96,218.92 L360.75,218.14 L361.55,217.36 L362.34,216.56 L363.14,215.75 L363.93,214.93 L364.73,214.10 L365.52,213.26 L366.32,212.41 L367.11,211.55 L367.91,210.69 L368.70,209.82 L369.50,208.95 L370.29,208.07 L371.09,207.18 L371.88,206.30 L372.68,205.41 L373.47,204.52 L374.27,203.63 L375.06,202.74 L375.86,201.85 L376.65,200.96 L377.45,200.07 L378.24,199.18 L379.04,198.29 L379.83,197.41 L380.63,196.53 L381.42,195.66 L382.22,194.78 L383.01,193.92 L383.81,193.05 L384.60,192.19 L385.40,191.34 L386.19,190.48 L386.99,189.64 L387.78,188.79 L388.58,187.95 L389.37,187.12 L390.17,186.28 L390.96,185.45 L391.76,184.62 L392.55,183.79 L393.35,182.97 L394.14,182.14 L394.94,181.31 L395.73,180.48 L396.53,179.64 L397.32,178.80 L398.12,177.95 L398.91,177.10 L399.71,176.24 L400.50,175.36 L401.30,174.47 L402.09,173.57 L402.89,172.65 L403.68,171.72 L404.48,170.76 L405.27,169.78 L406.07,168.77 L406.86,167.73 L407.66,166.66 L408.45,165.55 L409.25,164.41 L410.04,163.22 L410.84,161.99 L411.63,160.72 L412.43,159.39 L413.22,158.00 L414.02,156.55 L414.81,155.04 L415.61,153.46 L416.40,151.80" fill="none" stroke="#c2c2c2" stroke-width="1.1"/>
<path d="M321.80,237.10 L322.59,236.90 L323.39,236.70 L324.18,236.51 L324.98,236.31 L325.77,236.11 L326.57,235.91 L327.36,235.71 L328.16,235.50 L328.95,235.30 L329.75,235.10 L330.54,234.90 L331.34,234.69 L332.13,234.49 L332.93,234.29 L333.72,234.09 L334.52,233.89 L335.31,233.69 L336.11,233.49 L336.90,233.29 L337.70,233.08 L338.49,232.87 L339.29,232.65 L340.08,232.42 L340.88,232.19 L341.67,231.95 L342.47,231.71 L343.26,231.46 L344.06,231.21 L344.85,230.95 L345.65,230.69 L346.44,230.41 L347.24,230.13 L348.03,229.84 L348.83,229.54 L349.62,229.22 L350.42,228.90 L351.21,228.56 L352.01,228.20 L352.80,227.82 L353.60,227.43 L354.39,227.03 L355.19,226.62 L355.98,226.19 L356.78,225.76 L357.57,225.31 L358.37,224.86 L359.16,224.41 L359.96,223.95 L360.75,223.48 L361.55,223.00 L362.34,222.51 L363.14,222.01 L363.93,221.50 L364.73,220.97 L365.52,220.44 L366.32,219.90 L367.11,219.34 L367.91,218.78 L368.70,218.20 L369.50,217.61 L370.29,217.01 L371.09,216.40 L371.88,215.78 L372.68,215.14 L373.47,214.49 L374.27,213.83 L375.06,213.15 L375.86,212.45 L376.65,211.74 L377.45,211.02 L378.24,210.28 L379.04,209.51 L379.83,208.72 L380.63,207.90 L381.42,207.05 L382.22,206.19 L383.01,205.30 L383.81,204.40 L384.60,203.49 L385.40,202.58 L386.19,201.66 L386.99,200.75 L387.78,199.84 L388.58,198.94 L389.37,198.05 L390.17,197.16 L390.96,196.28 L391.76,195.39 L392.55,194.50 L393.35,193.59 L394.14,192.66 L394.94,191.71 L395.73,190.74 L396.53,189.73 L397.32,188.69 L398.12,187.62 L398.91,186.51 L399.71,185.39 L400.50,184.23 L401.30,183.04 L402.09,181.82 L402.89,180.57 L403.68,179.28 L404.48,177.95 L405.27,176.57 L406.07,175.16 L406.86,173.70 L407.66,172.19 L408.45,170.61 L409.25,168.97 L410.04,167.27 L410.84,165.51 L411.63,163.70 L412.43,161.84 L413.22,159.92 L414.02,157.96 L414.81,155.95 L415.61,153.89 L416.40,151.80" fill="none" stroke="#3e3e3e" stroke-width="1.2"/>
<rect x="321.8" y="151.8" width="94.60" height="85.30" fill="none" stroke="#8e8e8e" stroke-width="1.3"/>
<line x1="321.8" y1="220.04" x2="323.3" y2="220.04" stroke="#8e8e8e" stroke-width="0.8"/>
<line x1="340.72" y1="237.1" x2="340.72" y2="235.6" stroke="#8e8e8e" stroke-width="0.8"/>
<line x1="340.72" y1="151.8" x2="340.72" y2="153.3" stroke="#8e8e8e" stroke-width="0.8"/>
<line x1="416.4" y1="220.04" x2="414.9" y2="220.04" stroke="#8e8e8e" stroke-width="0.8"/>
<line x1="321.8" y1="202.98" x2="323.3" y2="202.98" stroke="#8e8e8e" stroke-width="0.8"/>
<line x1="359.64" y1="237.1" x2="359.64" y2="235.6" stroke="#8e8e8e" stroke-width="0.8"/>
<line x1="359.64" y1="151.8" x2="359.64" y2="153.3" stroke="#8e8e8e" stroke-width="0.8"/>
<line x1="416.4" y1="202.98" x2="414.9" y2="202.98" stroke="#8e8e8e" stroke-width="0.8"/>
<line x1="321.8" y1="185.92" x2="323.3" y2="185.92" stroke="#8e8e8e" stroke-width="0.8"/>
<line x1="378.56" y1="237.1" x2="378.56" y2="235.6" stroke="#8e8e8e" stroke-width="0.8"/>
<line x1="378.56" y1="151.8" x2="378.56" y2="153.3" stroke="#8e8e8e" stroke-width="0.8"/>
<line x1="416.4" y1="185.92" x2="414.9" y2="185.92" stroke="#8e8e8e" stroke-width="0.8"/>
<line x1="321.8" y1="168.86" x2="323.3" y2="168.86" stroke="#8e8e8e" stroke-width="0.8"/>
<line x1="397.48" y1="237.1" x2="397.48" y2="235.6" stroke="#8e8e8e" stroke-width="0.8"/>
<line x1="397.48" y1="151.8" x2="397.48" y2="153.3" stroke="#8e8e8e" stroke-width="0.8"/>
<line x1="416.4" y1="168.86" x2="414.9" y2="168.86" stroke="#8e8e8e" stroke-width="0.8"/>
<text transform="translate(313.53,241.30) scale(0.9800,1)" font-size="10.20" fill="#222" stroke="#222" stroke-width="0.120">0</text>
<text transform="translate(319.02,250.40) scale(0.9800,1)" font-size="10.20" fill="#222" stroke="#222" stroke-width="0.120">0</text>
<text transform="translate(305.31,224.24) scale(0.9800,1)" font-size="10.20" fill="#222" stroke="#222" stroke-width="0.120">0.2</text>
<text transform="translate(333.83,250.40) scale(0.9800,1)" font-size="10.20" fill="#222" stroke="#222" stroke-width="0.120">0.2</text>
<text transform="translate(305.10,207.18) scale(0.9800,1)" font-size="10.20" fill="#222" stroke="#222" stroke-width="0.120">0.4</text>
<text transform="translate(352.64,250.40) scale(0.9800,1)" font-size="10.20" fill="#222" stroke="#222" stroke-width="0.120">0.4</text>
<text transform="translate(305.24,190.12) scale(0.9800,1)" font-size="10.20" fill="#222" stroke="#222" stroke-width="0.120">0.6</text>
<text transform="translate(371.64,250.40) scale(0.9800,1)" font-size="10.20" fill="#222" stroke="#222" stroke-width="0.120">0.6</text>
<text transform="translate(305.24,173.06) scale(0.9800,1)" font-size="10.20" fill="#222" stroke="#222" stroke-width="0.120">0.8</text>
<text transform="translate(390.55,250.40) scale(0.9800,1)" font-size="10.20" fill="#222" stroke="#222" stroke-width="0.120">0.8</text>
<text transform="translate(313.63,156.00) scale(0.9800,1)" font-size="10.20" fill="#222" stroke="#222" stroke-width="0.120">1</text>
<text transform="translate(413.48,250.40) scale(0.9800,1)" font-size="10.20" fill="#222" stroke="#222" stroke-width="0.120">1</text>
<text transform="translate(331.86,264.10) scale(0.9518,1)" font-size="10.00" fill="#222" stroke="#222" stroke-width="0.120">Water Consumed</text>
<text transform="translate(299.00,242.10) rotate(-90) scale(0.9989,1)" font-size="9.80" fill="#222" stroke="#222" stroke-width="0.120">Calories Produced</text>
<text transform="translate(344.61,147.46) scale(1.0550,1)" font-size="14.03" font-weight="bold" fill="#000">Maize</text>
<line x1="321.8" y1="356.92" x2="416.4" y2="356.92" stroke="#ebebeb" stroke-width="0.9"/>
<line x1="340.72" y1="288.6" x2="340.72" y2="374.0" stroke="#ebebeb" stroke-width="0.9"/>
<line x1="321.8" y1="339.84" x2="416.4" y2="339.84" stroke="#ebebeb" stroke-width="0.9"/>
<line x1="359.64" y1="288.6" x2="359.64" y2="374.0" stroke="#ebebeb" stroke-width="0.9"/>
<line x1="321.8" y1="322.76" x2="416.4" y2="322.76" stroke="#ebebeb" stroke-width="0.9"/>
<line x1="378.56" y1="288.6" x2="378.56" y2="374.0" stroke="#ebebeb" stroke-width="0.9"/>
<line x1="321.8" y1="305.68" x2="416.4" y2="305.68" stroke="#ebebeb" stroke-width="0.9"/>
<line x1="397.48" y1="288.6" x2="397.48" y2="374.0" stroke="#ebebeb" stroke-width="0.9"/>
<path d="M321.80,374.00 L322.59,373.88 L323.39,373.75 L324.18,373.60 L324.98,373.43 L325.77,373.25 L326.57,373.05 L327.36,372.85 L328.16,372.63 L328.95,372.40 L329.75,372.16 L330.54,371.92 L331.34,371.67 L332.13,371.40 L332.93,371.10 L333.72,370.78 L334.52,370.44 L335.31,370.08 L336.11,369.71 L336.90,369.32 L337.70,368.92 L338.49,368.51 L339.29,368.09 L340.08,367.68 L340.88,367.25 L341.67,366.82 L342.47,366.37 L343.26,365.91 L344.06,365.43 L344.85,364.94 L345.65,364.44 L346.44,363.93 L347.24,363.41 L348.03,362.89 L348.83,362.36 L349.62,361.82 L350.42,361.28 L351.21,360.74 L352.01,360.19 L352.80,359.62 L353.60,359.05 L354.39,358.47 L355.19,357.89 L355.98,357.29 L356.78,356.69 L357.57,356.07 L358.37,355.45 L359.16,354.82 L359.96,354.19 L360.75,353.54 L361.55,352.88 L362.34,352.20 L363.14,351.52 L363.93,350.83 L364.73,350.13 L365.52,349.42 L366.32,348.70 L367.11,347.98 L367.91,347.26 L368.70,346.53 L369.50,345.79 L370.29,345.05 L371.09,344.31 L371.88,343.55 L372.68,342.79 L373.47,342.02 L374.27,341.25 L375.06,340.47 L375.86,339.68 L376.65,338.88 L377.45,338.08 L378.24,337.26 L379.04,336.44 L379.83,335.61 L380.63,334.77 L381.42,333.92 L382.22,333.06 L383.01,332.20 L383.81,331.33 L384.60,330.45 L385.40,329.56 L386.19,328.67 L386.99,327.77 L387.78,326.87 L388.58,325.97 L389.37,325.06 L390.17,324.15 L390.96,323.23 L391.76,322.31 L392.55,321.38 L393.35,320.44 L394.14,319.50 L394.94,318.54 L395.73,317.58 L396.53,316.60 L397.32,315.61 L398.12,314.62 L398.91,313.61 L399.71,312.60 L400.50,311.57 L401.30,310.53 L402.09,309.49 L402.89,308.43 L403.68,307.36 L404.48,306.28 L405.27,305.19 L406.07,304.09 L406.86,302.97 L407.66,301.85 L408.45,300.71 L409.25,299.55 L410.04,298.38 L410.84,297.20 L411.63,296.01 L412.43,294.81 L413.22,293.59 L414.02,292.36 L414.81,291.12 L415.61,289.86 L416.40,288.60" fill="none" stroke="#c2c2c2" stroke-width="1.1"/>
<path d="M321.80,374.00 L322.59,373.88 L323.39,373.72 L324.18,373.54 L324.98,373.33 L325.77,373.10 L326.57,372.85 L327.36,372.58 L328.16,372.30 L328.95,372.00 L329.75,371.68 L330.54,371.35 L331.34,371.01 L332.13,370.66 L332.93,370.29 L333.72,369.91 L334.52,369.52 L335.31,369.12 L336.11,368.71 L336.90,368.28 L337.70,367.85 L338.49,367.40 L339.29,366.95 L340.08,366.48 L340.88,366.01 L341.67,365.52 L342.47,365.03 L343.26,364.53 L344.06,364.01 L344.85,363.49 L345.65,362.96 L346.44,362.42 L347.24,361.87 L348.03,361.32 L348.83,360.75 L349.62,360.18 L350.42,359.60 L351.21,359.01 L352.01,358.41 L352.80,357.81 L353.60,357.20 L354.39,356.57 L355.19,355.95 L355.98,355.31 L356.78,354.67 L357.57,354.02 L358.37,353.36 L359.16,352.69 L359.96,352.02 L360.75,351.34 L361.55,350.65 L362.34,349.96 L363.14,349.26 L363.93,348.55 L364.73,347.84 L365.52,347.12 L366.32,346.39 L367.11,345.65 L367.91,344.91 L368.70,344.16 L369.50,343.41 L370.29,342.65 L371.09,341.88 L371.88,341.11 L372.68,340.33 L373.47,339.54 L374.27,338.75 L375.06,337.95 L375.86,337.14 L376.65,336.33 L377.45,335.51 L378.24,334.69 L379.04,333.86 L379.83,333.02 L380.63,332.18 L381.42,331.33 L382.22,330.48 L383.01,329.62 L383.81,328.76 L384.60,327.89 L385.40,327.01 L386.19,326.13 L386.99,325.24 L387.78,324.34 L388.58,323.44 L389.37,322.54 L390.17,321.63 L390.96,320.71 L391.76,319.79 L392.55,318.86 L393.35,317.93 L394.14,316.99 L394.94,316.05 L395.73,315.10 L396.53,314.15 L397.32,313.19 L398.12,312.22 L398.91,311.25 L399.71,310.27 L400.50,309.29 L401.30,308.31 L402.09,307.31 L402.89,306.32 L403.68,305.32 L404.48,304.31 L405.27,303.30 L406.07,302.28 L406.86,301.26 L407.66,300.23 L408.45,299.20 L409.25,298.16 L410.04,297.12 L410.84,296.07 L411.63,295.02 L412.43,293.96 L413.22,292.90 L414.02,291.83 L414.81,290.76 L415.61,289.68 L416.40,288.60" fill="none" stroke="#3e3e3e" stroke-width="1.2"/>
<rect x="321.8" y="288.6" width="94.60" height="85.40" fill="none" stroke="#8e8e8e" stroke-width="1.3"/>
<line x1="321.8" y1="356.92" x2="323.3" y2="356.92" stroke="#8e8e8e" stroke-width="0.8"/>
<line x1="340.72" y1="374.0" x2="340.72" y2="372.5" stroke="#8e8e8e" stroke-width="0.8"/>
<line x1="340.72" y1="288.6" x2="340.72" y2="290.1" stroke="#8e8e8e" stroke-width="0.8"/>
<line x1="416.4" y1="356.92" x2="414.9" y2="356.92" stroke="#8e8e8e" stroke-width="0.8"/>
<line x1="321.8" y1="339.84" x2="323.3" y2="339.84" stroke="#8e8e8e" stroke-width="0.8"/>
<line x1="359.64" y1="374.0" x2="359.64" y2="372.5" stroke="#8e8e8e" stroke-width="0.8"/>
<line x1="359.64" y1="288.6" x2="359.64" y2="290.1" stroke="#8e8e8e" stroke-width="0.8"/>
<line x1="416.4" y1="339.84" x2="414.9" y2="339.84" stroke="#8e8e8e" stroke-width="0.8"/>
<line x1="321.8" y1="322.76" x2="323.3" y2="322.76" stroke="#8e8e8e" stroke-width="0.8"/>
<line x1="378.56" y1="374.0" x2="378.56" y2="372.5" stroke="#8e8e8e" stroke-width="0.8"/>
<line x1="378.56" y1="288.6" x2="378.56" y2="290.1" stroke="#8e8e8e" stroke-width="0.8"/>
<line x1="416.4" y1="322.76" x2="414.9" y2="322.76" stroke="#8e8e8e" stroke-width="0.8"/>
<line x1="321.8" y1="305.68" x2="323.3" y2="305.68" stroke="#8e8e8e" stroke-width="0.8"/>
<line x1="397.48" y1="374.0" x2="397.48" y2="372.5" stroke="#8e8e8e" stroke-width="0.8"/>
<line x1="397.48" y1="288.6" x2="397.48" y2="290.1" stroke="#8e8e8e" stroke-width="0.8"/>
<line x1="416.4" y1="305.68" x2="414.9" y2="305.68" stroke="#8e8e8e" stroke-width="0.8"/>
<text transform="translate(313.53,378.20) scale(0.9800,1)" font-size="10.20" fill="#222" stroke="#222" stroke-width="0.120">0</text>
<text transform="translate(319.02,387.30) scale(0.9800,1)" font-size="10.20" fill="#222" stroke="#222" stroke-width="0.120">0</text>
<text transform="translate(305.31,361.12) scale(0.9800,1)" font-size="10.20" fill="#222" stroke="#222" stroke-width="0.120">0.2</text>
<text transform="translate(333.83,387.30) scale(0.9800,1)" font-size="10.20" fill="#222" stroke="#222" stroke-width="0.120">0.2</text>
<text transform="translate(305.10,344.04) scale(0.9800,1)" font-size="10.20" fill="#222" stroke="#222" stroke-width="0.120">0.4</text>
<text transform="translate(352.64,387.30) scale(0.9800,1)" font-size="10.20" fill="#222" stroke="#222" stroke-width="0.120">0.4</text>
<text transform="translate(305.24,326.96) scale(0.9800,1)" font-size="10.20" fill="#222" stroke="#222" stroke-width="0.120">0.6</text>
<text transform="translate(371.64,387.30) scale(0.9800,1)" font-size="10.20" fill="#222" stroke="#222" stroke-width="0.120">0.6</text>
<text transform="translate(305.24,309.88) scale(0.9800,1)" font-size="10.20" fill="#222" stroke="#222" stroke-width="0.120">0.8</text>
<text transform="translate(390.55,387.30) scale(0.9800,1)" font-size="10.20" fill="#222" stroke="#222" stroke-width="0.120">0.8</text>
<text transform="translate(313.63,292.80) scale(0.9800,1)" font-size="10.20" fill="#222" stroke="#222" stroke-width="0.120">1</text>
<text transform="translate(413.48,387.30) scale(0.9800,1)" font-size="10.20" fill="#222" stroke="#222" stroke-width="0.120">1</text>
<text transform="translate(331.86,401.00) scale(0.9518,1)" font-size="10.00" fill="#222" stroke="#222" stroke-width="0.120">Water Consumed</text>
<text transform="translate(302.30,373.90) rotate(-90) scale(1.0014,1)" font-size="9.80" fill="#222" stroke="#222" stroke-width="0.120">Calories Produced</text>
<text transform="translate(349.02,283.17) scale(1.0917,1)" font-size="13.48" font-weight="bold" fill="#000">Rice</text>
<rect x="328.5" y="415.1" width="76.4" height="28.1" fill="#fff" stroke="#8e8e8e" stroke-width="1"/>
<circle cx="348.8" cy="423.4" r="2.9" fill="#474747"/>
<circle cx="348.8" cy="436.1" r="2.9" fill="#c9c9c9"/>
<text transform="translate(364.70,426.90) scale(1.0195,1)" font-size="9.60" fill="#222" stroke="#222" stroke-width="0.120">Rainfed</text>
<text transform="translate(364.59,439.60) scale(1.0263,1)" font-size="9.60" fill="#222" stroke="#222" stroke-width="0.120">Irrigated</text>
</g></svg>
</body></html>
